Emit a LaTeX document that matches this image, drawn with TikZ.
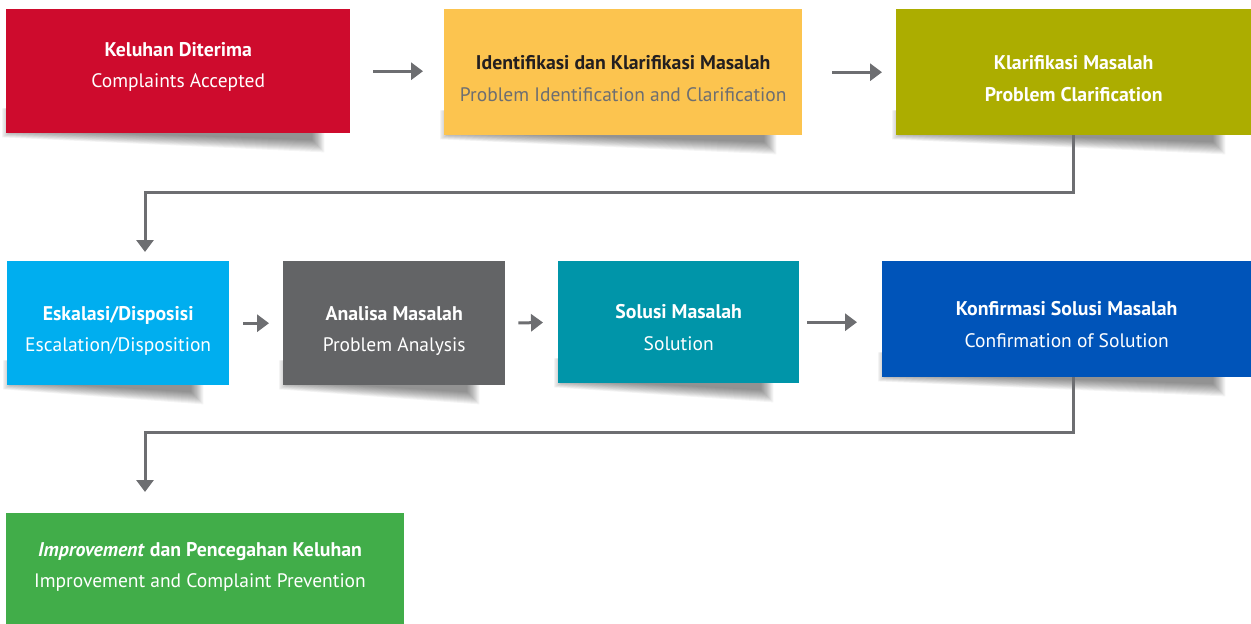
\documentclass[tikz,border=0pt]{standalone}
\usepackage{fontspec}
\setmainfont{PT Sans}
\usetikzlibrary{arrows.meta,calc,backgrounds}
\definecolor{cred}{HTML}{CE0B2D}
\definecolor{cyellow}{HTML}{FCC44F}
\definecolor{colive}{HTML}{ACAD00}
\definecolor{ccyan}{HTML}{00AEEF}
\definecolor{cgray}{HTML}{636466}
\definecolor{cteal}{HTML}{0095A9}
\definecolor{cblue}{HTML}{0054B9}
\definecolor{cgreen}{HTML}{41AD49}
\definecolor{carrow}{HTML}{6D6E71}
\definecolor{cdark}{HTML}{231F20}
\newcommand\bshadow[1]{%
  \foreach \k in {0,...,11}{%
    \fill[black,opacity=0.042]
      ($(#1.south west)+(-4+1.2*\k,-25)$) --
      ($(#1.south east)+(-26-1.1*\k,-25)$) --
      ($(#1.south east)+(-26-1.1*\k,19-1.1*\k)$) --
      ($(#1.south west)+(-4+1.2*\k,4-0.7*\k)$) -- cycle;}}
\begin{document}
\begin{tikzpicture}[x=1pt,y=-1pt,
  box/.style={rectangle,inner sep=0pt,anchor=north west,draw=none},
  tl/.style={anchor=base,inner sep=0pt,text=white,font=\fontsize{19.5}{22}\selectfont},
  tb/.style={tl,font=\fontsize{19.8}{22}\selectfont\bfseries},
  arr/.style={draw=carrow,line width=3pt,-{Triangle[length=12pt,width=17pt]}}]
\useasboundingbox (0,0) rectangle (1251,624);
% boxes
\node[box,fill=cred,minimum width=344pt,minimum height=124pt] (b1) at (6,9) {};
\node[box,fill=cyellow,minimum width=358pt,minimum height=126pt] (b2) at (444,9) {};
\node[box,fill=colive,minimum width=355pt,minimum height=126pt] (b3) at (896,9) {};
\node[box,fill=ccyan,minimum width=222pt,minimum height=124pt] (b4) at (7,261) {};
\node[box,fill=cgray,minimum width=222pt,minimum height=124pt] (b5) at (283,261) {};
\node[box,fill=cteal,minimum width=241pt,minimum height=122pt] (b6) at (558,261) {};
\node[box,fill=cblue,minimum width=369pt,minimum height=116pt] (b7) at (882,261) {};
\node[box,fill=cgreen,minimum width=398pt,minimum height=111pt] (b8) at (6,513) {};
% shadows
\begin{scope}[on background layer]
\fill[white] (0,0) rectangle (1251,624);
\bshadow{b1}\bshadow{b2}\bshadow{b3}\bshadow{b4}
\bshadow{b5}\bshadow{b6}\bshadow{b7}
\end{scope}
% texts
\node[tb] (b1a) at (b1.center |- 0,56) {Keluhan Diterima};
\node[tl] (b1b) at (b1.center |- 0,87) {Complaints Accepted};
\node[tb,text=cdark] (b2a) at (b2.center |- 0,69) {Identifikasi dan Klarifikasi Masalah};
\node[tl,text=carrow] (b2b) at (b2.center |- 0,101) {Problem Identification and Clarification};
\node[tb] (b3a) at (b3.center |- 0,69) {Klarifikasi Masalah};
\node[tb] (b3b) at (b3.center |- 0,101) {Problem Clarification};
\node[tb] (b4a) at (b4.center |- 0,320) {Eskalasi/Disposisi};
\node[tl] (b4b) at (b4.center |- 0,351) {Escalation/Disposition};
\node[tb] (b5a) at (b5.center |- 0,320) {Analisa Masalah};
\node[tl] (b5b) at (b5.center |- 0,351) {Problem Analysis};
\node[tb] (b6a) at (b6.center |- 0,318) {Solusi Masalah};
\node[tl] (b6b) at (b6.center |- 0,350) {Solution};
\node[tb] (b7a) at (b7.center |- 0,315) {Konfirmasi Solusi Masalah};
\node[tl] (b7b) at (b7.center |- 0,347) {Confirmation of Solution};
\node[tb] (b8a) at (200,556) {\textit{Improvement} dan Pencegahan Keluhan};
\node[tl] (b8b) at (200,587) {Improvement and Complaint Prevention};
% connectors
\draw[arr,shorten <=23pt,shorten >=21pt] (b1.east) -- (b1.east -| b2.west);
\draw[arr,shorten <=30pt,shorten >=14pt] (b2.east) -- (b3.west);
\draw[arr,shorten <=14pt,shorten >=14pt] (b4.east) -- (b5.west);
\draw[arr,shorten <=13pt,shorten >=15pt] (b5.east) -- (b6.west);
\draw[arr,shorten <=8pt,shorten >=25pt] (b6.east) -- (b6.east -| b7.west);
\coordinate (c1) at (145,252);
\coordinate (c2) at (145,492);
\draw[arr] (b3.south) -- ++(0,57) -| (c1);
\draw[arr] (b3.south |- b7.south) -- ++(0,55) -| (c2);
\end{tikzpicture}
\end{document}
